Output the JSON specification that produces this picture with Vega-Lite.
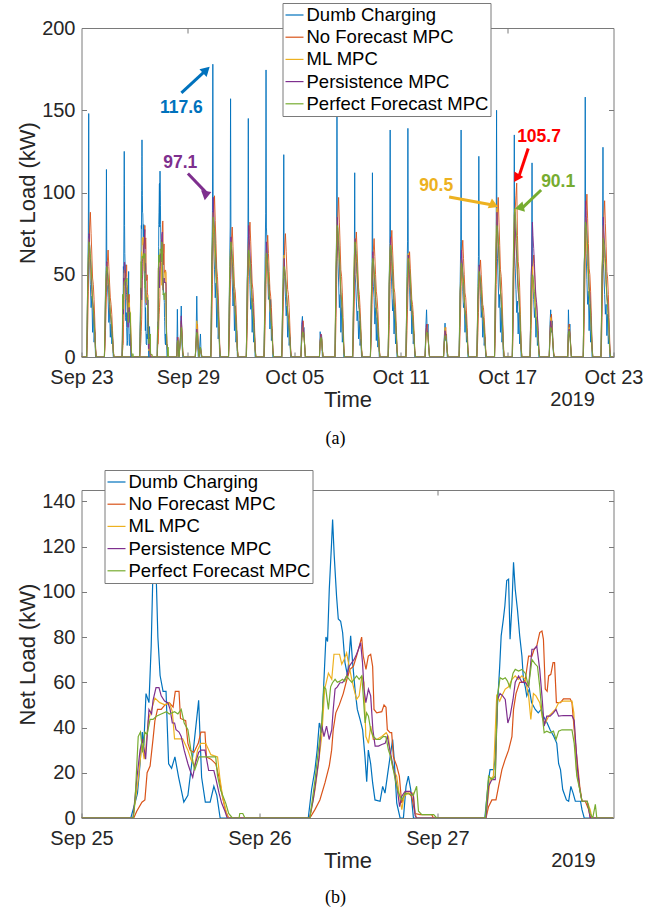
{
"$schema": "https://vega.github.io/schema/vega-lite/v6.json",
"padding": {"left": 15.5, "top": 2, "right": 5, "bottom": 2},
"spacing": 20,
"resolve": {"scale": {"color": "independent"}},
"config": {
  "font": "Liberation Sans",
  "view": {"stroke": "#7a7a7a", "strokeWidth": 1},
  "axis": {"grid": false, "domain": false, "labelFont": "Liberation Sans", "labelFontSize": 20, "labelColor": "#262626", "titleFont": "Liberation Sans", "titleFontSize": 22, "titleFontWeight": "normal", "titleColor": "#262626", "tickColor": "#7a7a7a", "tickSize": -5, "labelFlush": false, "labelOverlap": false},
  "axisX": {"labelPadding": 15, "titlePadding": 2},
  "axisY": {"labelPadding": 11.5, "titlePadding": 2}
},
"datasets": {
"notes": [
 {"lab":"117.6","t":"2019-09-28T15:13","v":160.6,"t2":"2019-09-30T00:58","v2":174.5,"tt":"2019-09-28T15:13","tv":151.5},
 {"lab":"97.1","t":"2019-09-29T00:00","v":111.5,"t2":"2019-09-30T02:02","v2":99.3,"tt":"2019-09-28T13:34","tv":117.8},
 {"lab":"105.7","t":"2019-10-18T04:34","v":126.7,"t2":"2019-10-17T15:50","v2":109.5,"tt":"2019-10-18T19:12","tv":133.6},
 {"lab":"90.5","t":"2019-10-13T17:31","v":97.3,"t2":"2019-10-16T06:14","v2":92.3,"tt":"2019-10-13T00:00","tv":103.8},
 {"lab":"90.1","t":"2019-10-18T22:05","v":101.5,"t2":"2019-10-17T19:55","v2":90.3,"tt":"2019-10-19T21:07","tv":106.3}
],
"coarse": [
{"t":"2019-09-23T00:00","dc":0,"nf":0,"ml":0,"pe":0,"pf":0},
{"t":"2019-09-23T07:00","dc":0,"nf":0,"ml":0,"pe":0,"pf":0},
{"t":"2019-09-23T07:45","dc":22,"nf":7,"ml":22,"pe":19,"pf":25},
{"t":"2019-09-23T08:30","dc":52,"nf":22,"ml":47,"pe":45,"pf":49},
{"t":"2019-09-23T09:15","dc":74,"nf":40,"ml":61,"pe":53,"pf":60},
{"t":"2019-09-23T09:45","dc":148,"nf":53,"ml":68,"pe":64,"pf":67},
{"t":"2019-09-23T10:15","dc":67,"nf":66,"ml":72,"pe":75,"pf":70},
{"t":"2019-09-23T11:00","dc":59,"nf":79,"ml":61,"pe":68,"pf":68},
{"t":"2019-09-23T12:00","dc":44,"nf":88,"ml":54,"pe":60,"pf":63},
{"t":"2019-09-23T13:00","dc":30,"nf":75,"ml":47,"pe":53,"pf":56},
{"t":"2019-09-23T14:00","dc":37,"nf":62,"ml":40,"pe":41,"pf":46},
{"t":"2019-09-23T15:00","dc":15,"nf":48,"ml":32,"pe":34,"pf":35},
{"t":"2019-09-23T16:00","dc":30,"nf":44,"ml":29,"pe":30,"pf":29},
{"t":"2019-09-23T17:00","dc":9,"nf":35,"ml":23,"pe":23,"pf":22},
{"t":"2019-09-23T18:00","dc":15,"nf":22,"ml":14,"pe":15,"pf":14},
{"t":"2019-09-23T19:00","dc":0,"nf":7,"ml":4,"pe":5,"pf":4},
{"t":"2019-09-23T20:00","dc":0,"nf":0,"ml":0,"pe":0,"pf":0},
{"t":"2019-09-24T07:00","dc":0,"nf":0,"ml":0,"pe":0,"pf":0},
{"t":"2019-09-24T07:45","dc":15,"nf":5,"ml":17,"pe":14,"pf":19},
{"t":"2019-09-24T08:30","dc":42,"nf":16,"ml":37,"pe":35,"pf":38},
{"t":"2019-09-24T09:15","dc":55,"nf":29,"ml":48,"pe":41,"pf":47},
{"t":"2019-09-24T09:45","dc":114,"nf":39,"ml":54,"pe":49,"pf":52},
{"t":"2019-09-24T10:15","dc":55,"nf":49,"ml":57,"pe":58,"pf":55},
{"t":"2019-09-24T11:00","dc":44,"nf":58,"ml":48,"pe":52,"pf":53},
{"t":"2019-09-24T12:00","dc":36,"nf":65,"ml":43,"pe":46,"pf":50},
{"t":"2019-09-24T13:00","dc":21,"nf":55,"ml":37,"pe":41,"pf":44},
{"t":"2019-09-24T14:00","dc":30,"nf":45,"ml":31,"pe":32,"pf":36},
{"t":"2019-09-24T15:00","dc":12,"nf":36,"ml":26,"pe":26,"pf":27},
{"t":"2019-09-24T16:00","dc":20,"nf":32,"ml":23,"pe":23,"pf":23},
{"t":"2019-09-24T17:00","dc":8,"nf":26,"ml":18,"pe":17,"pf":18},
{"t":"2019-09-24T18:00","dc":12,"nf":16,"ml":11,"pe":12,"pf":11},
{"t":"2019-09-24T19:00","dc":0,"nf":5,"ml":3,"pe":3,"pf":3},
{"t":"2019-09-24T20:00","dc":0,"nf":0,"ml":0,"pe":0,"pf":0},
{"t":"2019-09-28T09:00","dc":0,"nf":0,"ml":0,"pe":0,"pf":0},
{"t":"2019-09-28T09:45","dc":29,"nf":8,"ml":10,"pe":12,"pf":9},
{"t":"2019-09-28T10:30","dc":6,"nf":12,"ml":11,"pe":10,"pf":10},
{"t":"2019-09-28T11:15","dc":0,"nf":5,"ml":4,"pe":3,"pf":4},
{"t":"2019-09-28T12:00","dc":0,"nf":0,"ml":0,"pe":0,"pf":0},
{"t":"2019-09-28T14:00","dc":14,"nf":10,"ml":12,"pe":12,"pf":11},
{"t":"2019-09-28T15:00","dc":31,"nf":22,"ml":20,"pe":25,"pf":18},
{"t":"2019-09-28T16:00","dc":8,"nf":16,"ml":14,"pe":14,"pf":13},
{"t":"2019-09-28T17:00","dc":0,"nf":4,"ml":3,"pe":3,"pf":3},
{"t":"2019-09-28T18:00","dc":0,"nf":0,"ml":0,"pe":0,"pf":0},
{"t":"2019-09-29T10:00","dc":0,"nf":0,"ml":0,"pe":0,"pf":0},
{"t":"2019-09-29T11:00","dc":10,"nf":6,"ml":10,"pe":8,"pf":8},
{"t":"2019-09-29T12:00","dc":37,"nf":18,"ml":22,"pe":17,"pf":15},
{"t":"2019-09-29T13:00","dc":12,"nf":20,"ml":15,"pe":14,"pf":14},
{"t":"2019-09-29T14:00","dc":0,"nf":8,"ml":5,"pe":5,"pf":5},
{"t":"2019-09-29T15:00","dc":0,"nf":0,"ml":0,"pe":0,"pf":0},
{"t":"2019-09-29T17:00","dc":14,"nf":5,"ml":6,"pe":6,"pf":6},
{"t":"2019-09-29T18:00","dc":0,"nf":3,"ml":2,"pe":2,"pf":2},
{"t":"2019-09-29T19:00","dc":0,"nf":0,"ml":0,"pe":0,"pf":0},
{"t":"2019-09-30T07:00","dc":0,"nf":0,"ml":0,"pe":0,"pf":0},
{"t":"2019-09-30T07:45","dc":27,"nf":8,"ml":26,"pe":24,"pf":30},
{"t":"2019-09-30T08:30","dc":62,"nf":25,"ml":57,"pe":58,"pf":60},
{"t":"2019-09-30T09:15","dc":89,"nf":44,"ml":75,"pe":68,"pf":72},
{"t":"2019-09-30T09:45","dc":178,"nf":59,"ml":84,"pe":82,"pf":81},
{"t":"2019-09-30T10:15","dc":80,"nf":74,"ml":88,"pe":97.1,"pf":85},
{"t":"2019-09-30T11:00","dc":71,"nf":88,"ml":75,"pe":87,"pf":82},
{"t":"2019-09-30T12:00","dc":53,"nf":98,"ml":66,"pe":78,"pf":77},
{"t":"2019-09-30T13:00","dc":36,"nf":83,"ml":57,"pe":68,"pf":68},
{"t":"2019-09-30T14:00","dc":45,"nf":69,"ml":48,"pe":53,"pf":55},
{"t":"2019-09-30T15:00","dc":18,"nf":54,"ml":40,"pe":44,"pf":43},
{"t":"2019-09-30T16:00","dc":36,"nf":49,"ml":35,"pe":39,"pf":36},
{"t":"2019-09-30T17:00","dc":11,"nf":39,"ml":28,"pe":29,"pf":27},
{"t":"2019-09-30T18:00","dc":18,"nf":25,"ml":18,"pe":19,"pf":17},
{"t":"2019-09-30T19:00","dc":0,"nf":8,"ml":4,"pe":6,"pf":5},
{"t":"2019-09-30T20:00","dc":0,"nf":0,"ml":0,"pe":0,"pf":0},
{"t":"2019-10-01T07:00","dc":0,"nf":0,"ml":0,"pe":0,"pf":0},
{"t":"2019-10-01T07:45","dc":24,"nf":6,"ml":21,"pe":18,"pf":25},
{"t":"2019-10-01T08:30","dc":55,"nf":20,"ml":46,"pe":44,"pf":49},
{"t":"2019-10-01T09:15","dc":79,"nf":36,"ml":60,"pe":51,"pf":60},
{"t":"2019-10-01T09:45","dc":157,"nf":47,"ml":67,"pe":62,"pf":67},
{"t":"2019-10-01T10:15","dc":71,"nf":59,"ml":70,"pe":73,"pf":70},
{"t":"2019-10-01T11:00","dc":63,"nf":71,"ml":60,"pe":66,"pf":68},
{"t":"2019-10-01T12:00","dc":47,"nf":79,"ml":53,"pe":58,"pf":63},
{"t":"2019-10-01T13:00","dc":31,"nf":67,"ml":46,"pe":51,"pf":56},
{"t":"2019-10-01T14:00","dc":39,"nf":55,"ml":39,"pe":40,"pf":46},
{"t":"2019-10-01T15:00","dc":16,"nf":43,"ml":32,"pe":33,"pf":35},
{"t":"2019-10-01T16:00","dc":31,"nf":40,"ml":28,"pe":29,"pf":29},
{"t":"2019-10-01T17:00","dc":9,"nf":32,"ml":22,"pe":22,"pf":22},
{"t":"2019-10-01T18:00","dc":16,"nf":20,"ml":14,"pe":15,"pf":14},
{"t":"2019-10-01T19:00","dc":0,"nf":6,"ml":4,"pe":4,"pf":4},
{"t":"2019-10-01T20:00","dc":0,"nf":0,"ml":0,"pe":0,"pf":0},
{"t":"2019-10-02T07:00","dc":0,"nf":0,"ml":0,"pe":0,"pf":0},
{"t":"2019-10-02T07:45","dc":22,"nf":7,"ml":22,"pe":20,"pf":23},
{"t":"2019-10-02T08:30","dc":51,"nf":21,"ml":47,"pe":48,"pf":46},
{"t":"2019-10-02T09:15","dc":73,"nf":37,"ml":61,"pe":56,"pf":55},
{"t":"2019-10-02T09:45","dc":145,"nf":49,"ml":68,"pe":68,"pf":62},
{"t":"2019-10-02T10:15","dc":65,"nf":62,"ml":72,"pe":80,"pf":65},
{"t":"2019-10-02T11:00","dc":58,"nf":74,"ml":61,"pe":72,"pf":63},
{"t":"2019-10-02T12:00","dc":44,"nf":82,"ml":54,"pe":64,"pf":59},
{"t":"2019-10-02T13:00","dc":29,"nf":70,"ml":47,"pe":56,"pf":52},
{"t":"2019-10-02T14:00","dc":36,"nf":57,"ml":40,"pe":44,"pf":42},
{"t":"2019-10-02T15:00","dc":15,"nf":45,"ml":32,"pe":36,"pf":33},
{"t":"2019-10-02T16:00","dc":29,"nf":41,"ml":29,"pe":32,"pf":27},
{"t":"2019-10-02T17:00","dc":9,"nf":33,"ml":23,"pe":24,"pf":21},
{"t":"2019-10-02T18:00","dc":15,"nf":21,"ml":14,"pe":16,"pf":13},
{"t":"2019-10-02T19:00","dc":0,"nf":7,"ml":4,"pe":5,"pf":4},
{"t":"2019-10-02T20:00","dc":0,"nf":0,"ml":0,"pe":0,"pf":0},
{"t":"2019-10-03T07:00","dc":0,"nf":0,"ml":0,"pe":0,"pf":0},
{"t":"2019-10-03T07:45","dc":26,"nf":6,"ml":20,"pe":18,"pf":22},
{"t":"2019-10-03T08:30","dc":61,"nf":19,"ml":42,"pe":42,"pf":44},
{"t":"2019-10-03T09:15","dc":87,"nf":33,"ml":55,"pe":49,"pf":54},
{"t":"2019-10-03T09:45","dc":174.5,"nf":44,"ml":62,"pe":60,"pf":60},
{"t":"2019-10-03T10:15","dc":79,"nf":56,"ml":65,"pe":70,"pf":63},
{"t":"2019-10-03T11:00","dc":70,"nf":67,"ml":55,"pe":63,"pf":61},
{"t":"2019-10-03T12:00","dc":52,"nf":74,"ml":49,"pe":56,"pf":57},
{"t":"2019-10-03T13:00","dc":35,"nf":63,"ml":42,"pe":49,"pf":50},
{"t":"2019-10-03T14:00","dc":44,"nf":52,"ml":36,"pe":39,"pf":41},
{"t":"2019-10-03T15:00","dc":17,"nf":41,"ml":29,"pe":32,"pf":32},
{"t":"2019-10-03T16:00","dc":35,"nf":37,"ml":26,"pe":28,"pf":26},
{"t":"2019-10-03T17:00","dc":10,"nf":30,"ml":21,"pe":21,"pf":20},
{"t":"2019-10-03T18:00","dc":17,"nf":19,"ml":13,"pe":14,"pf":13},
{"t":"2019-10-03T19:00","dc":0,"nf":6,"ml":3,"pe":4,"pf":4},
{"t":"2019-10-03T20:00","dc":0,"nf":0,"ml":0,"pe":0,"pf":0},
{"t":"2019-10-04T07:00","dc":0,"nf":0,"ml":0,"pe":0,"pf":0},
{"t":"2019-10-04T07:45","dc":18,"nf":6,"ml":19,"pe":15,"pf":19},
{"t":"2019-10-04T08:30","dc":43,"nf":19,"ml":40,"pe":36,"pf":39},
{"t":"2019-10-04T09:15","dc":62,"nf":34,"ml":53,"pe":42,"pf":47},
{"t":"2019-10-04T09:45","dc":123,"nf":45,"ml":59,"pe":51,"pf":52},
{"t":"2019-10-04T10:15","dc":55,"nf":56,"ml":62,"pe":60,"pf":55},
{"t":"2019-10-04T11:00","dc":49,"nf":68,"ml":53,"pe":54,"pf":53},
{"t":"2019-10-04T12:00","dc":37,"nf":75,"ml":47,"pe":48,"pf":50},
{"t":"2019-10-04T13:00","dc":25,"nf":64,"ml":40,"pe":42,"pf":44},
{"t":"2019-10-04T14:00","dc":31,"nf":53,"ml":34,"pe":33,"pf":36},
{"t":"2019-10-04T15:00","dc":12,"nf":41,"ml":28,"pe":27,"pf":28},
{"t":"2019-10-04T16:00","dc":25,"nf":38,"ml":25,"pe":24,"pf":23},
{"t":"2019-10-04T17:00","dc":7,"nf":30,"ml":20,"pe":18,"pf":18},
{"t":"2019-10-04T18:00","dc":12,"nf":19,"ml":12,"pe":12,"pf":11},
{"t":"2019-10-04T19:00","dc":0,"nf":6,"ml":3,"pe":4,"pf":3},
{"t":"2019-10-04T20:00","dc":0,"nf":0,"ml":0,"pe":0,"pf":0},
{"t":"2019-10-05T09:00","dc":0,"nf":0,"ml":0,"pe":0,"pf":0},
{"t":"2019-10-05T10:00","dc":20,"nf":10,"ml":12,"pe":12,"pf":10},
{"t":"2019-10-05T11:00","dc":24.7,"nf":18,"ml":20,"pe":22,"pf":15},
{"t":"2019-10-05T12:00","dc":12,"nf":22,"ml":18,"pe":18,"pf":15},
{"t":"2019-10-05T13:00","dc":18,"nf":15,"ml":14,"pe":14,"pf":13},
{"t":"2019-10-05T14:00","dc":6,"nf":8,"ml":7,"pe":7,"pf":7},
{"t":"2019-10-05T15:00","dc":0,"nf":0,"ml":0,"pe":0,"pf":0},
{"t":"2019-10-06T10:00","dc":0,"nf":0,"ml":0,"pe":0,"pf":0},
{"t":"2019-10-06T11:00","dc":15.4,"nf":8,"ml":10,"pe":10,"pf":9},
{"t":"2019-10-06T12:00","dc":10,"nf":14,"ml":13,"pe":14,"pf":12},
{"t":"2019-10-06T13:00","dc":13,"nf":12,"ml":11,"pe":11,"pf":11},
{"t":"2019-10-06T14:00","dc":0,"nf":5,"ml":4,"pe":4,"pf":4},
{"t":"2019-10-06T15:00","dc":0,"nf":0,"ml":0,"pe":0,"pf":0},
{"t":"2019-10-07T07:00","dc":0,"nf":0,"ml":0,"pe":0,"pf":0},
{"t":"2019-10-07T07:45","dc":23,"nf":8,"ml":26,"pe":21,"pf":28},
{"t":"2019-10-07T08:30","dc":53,"nf":24,"ml":55,"pe":51,"pf":56},
{"t":"2019-10-07T09:15","dc":75,"nf":44,"ml":72,"pe":60,"pf":68},
{"t":"2019-10-07T09:45","dc":150,"nf":58,"ml":81,"pe":72,"pf":76},
{"t":"2019-10-07T10:15","dc":68,"nf":73,"ml":85,"pe":85,"pf":80},
{"t":"2019-10-07T11:00","dc":60,"nf":87,"ml":72,"pe":77,"pf":78},
{"t":"2019-10-07T12:00","dc":45,"nf":97,"ml":64,"pe":68,"pf":72},
{"t":"2019-10-07T13:00","dc":30,"nf":82,"ml":55,"pe":60,"pf":64},
{"t":"2019-10-07T14:00","dc":38,"nf":68,"ml":47,"pe":47,"pf":52},
{"t":"2019-10-07T15:00","dc":15,"nf":53,"ml":38,"pe":38,"pf":40},
{"t":"2019-10-07T16:00","dc":30,"nf":49,"ml":34,"pe":34,"pf":34},
{"t":"2019-10-07T17:00","dc":9,"nf":39,"ml":27,"pe":26,"pf":26},
{"t":"2019-10-07T18:00","dc":15,"nf":24,"ml":17,"pe":17,"pf":16},
{"t":"2019-10-07T19:00","dc":0,"nf":8,"ml":4,"pe":5,"pf":5},
{"t":"2019-10-07T20:00","dc":0,"nf":0,"ml":0,"pe":0,"pf":0},
{"t":"2019-10-08T07:00","dc":0,"nf":0,"ml":0,"pe":0,"pf":0},
{"t":"2019-10-08T07:45","dc":17,"nf":6,"ml":22,"pe":18,"pf":25},
{"t":"2019-10-08T08:30","dc":39,"nf":19,"ml":47,"pe":43,"pf":49},
{"t":"2019-10-08T09:15","dc":56,"nf":34,"ml":61,"pe":50,"pf":60},
{"t":"2019-10-08T09:45","dc":112,"nf":46,"ml":68,"pe":61,"pf":67},
{"t":"2019-10-08T10:15","dc":50,"nf":57,"ml":72,"pe":72,"pf":70},
{"t":"2019-10-08T11:00","dc":45,"nf":68,"ml":61,"pe":65,"pf":68},
{"t":"2019-10-08T12:00","dc":34,"nf":76,"ml":54,"pe":58,"pf":63},
{"t":"2019-10-08T13:00","dc":22,"nf":65,"ml":47,"pe":50,"pf":56},
{"t":"2019-10-08T14:00","dc":28,"nf":53,"ml":40,"pe":40,"pf":46},
{"t":"2019-10-08T15:00","dc":11,"nf":42,"ml":32,"pe":32,"pf":35},
{"t":"2019-10-08T16:00","dc":22,"nf":38,"ml":29,"pe":29,"pf":29},
{"t":"2019-10-08T17:00","dc":7,"nf":30,"ml":23,"pe":22,"pf":22},
{"t":"2019-10-08T18:00","dc":11,"nf":19,"ml":14,"pe":14,"pf":14},
{"t":"2019-10-08T19:00","dc":0,"nf":6,"ml":4,"pe":4,"pf":4},
{"t":"2019-10-08T20:00","dc":0,"nf":0,"ml":0,"pe":0,"pf":0},
{"t":"2019-10-09T07:00","dc":0,"nf":0,"ml":0,"pe":0,"pf":0},
{"t":"2019-10-09T07:45","dc":14,"nf":6,"ml":19,"pe":16,"pf":21},
{"t":"2019-10-09T08:30","dc":40,"nf":18,"ml":40,"pe":38,"pf":42},
{"t":"2019-10-09T09:15","dc":58,"nf":32,"ml":53,"pe":45,"pf":51},
{"t":"2019-10-09T09:45","dc":112,"nf":43,"ml":59,"pe":54,"pf":57},
{"t":"2019-10-09T10:15","dc":52,"nf":54,"ml":62,"pe":64,"pf":60},
{"t":"2019-10-09T11:00","dc":43,"nf":65,"ml":53,"pe":58,"pf":58},
{"t":"2019-10-09T12:00","dc":36,"nf":72,"ml":47,"pe":51,"pf":54},
{"t":"2019-10-09T13:00","dc":20,"nf":61,"ml":40,"pe":45,"pf":48},
{"t":"2019-10-09T14:00","dc":30,"nf":50,"ml":34,"pe":35,"pf":39},
{"t":"2019-10-09T15:00","dc":10,"nf":40,"ml":28,"pe":29,"pf":30},
{"t":"2019-10-09T16:00","dc":24,"nf":36,"ml":25,"pe":26,"pf":25},
{"t":"2019-10-09T17:00","dc":6,"nf":29,"ml":20,"pe":19,"pf":19},
{"t":"2019-10-09T18:00","dc":12,"nf":18,"ml":12,"pe":13,"pf":12},
{"t":"2019-10-09T19:00","dc":0,"nf":6,"ml":3,"pe":4,"pf":4},
{"t":"2019-10-09T20:00","dc":0,"nf":0,"ml":0,"pe":0,"pf":0},
{"t":"2019-10-10T07:00","dc":0,"nf":0,"ml":0,"pe":0,"pf":0},
{"t":"2019-10-10T07:45","dc":21,"nf":6,"ml":21,"pe":18,"pf":24},
{"t":"2019-10-10T08:30","dc":48,"nf":19,"ml":46,"pe":44,"pf":48},
{"t":"2019-10-10T09:15","dc":69,"nf":35,"ml":60,"pe":51,"pf":58},
{"t":"2019-10-10T09:45","dc":138,"nf":46,"ml":67,"pe":62,"pf":65},
{"t":"2019-10-10T10:15","dc":62,"nf":58,"ml":70,"pe":73,"pf":68},
{"t":"2019-10-10T11:00","dc":55,"nf":69,"ml":60,"pe":66,"pf":66},
{"t":"2019-10-10T12:00","dc":41,"nf":77,"ml":53,"pe":58,"pf":61},
{"t":"2019-10-10T13:00","dc":28,"nf":65,"ml":46,"pe":51,"pf":54},
{"t":"2019-10-10T14:00","dc":35,"nf":54,"ml":39,"pe":40,"pf":44},
{"t":"2019-10-10T15:00","dc":14,"nf":42,"ml":32,"pe":33,"pf":34},
{"t":"2019-10-10T16:00","dc":28,"nf":39,"ml":28,"pe":29,"pf":29},
{"t":"2019-10-10T17:00","dc":8,"nf":31,"ml":22,"pe":22,"pf":22},
{"t":"2019-10-10T18:00","dc":14,"nf":19,"ml":14,"pe":15,"pf":14},
{"t":"2019-10-10T19:00","dc":0,"nf":6,"ml":4,"pe":4,"pf":4},
{"t":"2019-10-10T20:00","dc":0,"nf":0,"ml":0,"pe":0,"pf":0},
{"t":"2019-10-11T07:00","dc":0,"nf":0,"ml":0,"pe":0,"pf":0},
{"t":"2019-10-11T07:45","dc":21,"nf":5,"ml":19,"pe":16,"pf":21},
{"t":"2019-10-11T08:30","dc":49,"nf":16,"ml":41,"pe":37,"pf":42},
{"t":"2019-10-11T09:15","dc":70,"nf":29,"ml":54,"pe":43,"pf":51},
{"t":"2019-10-11T09:45","dc":139,"nf":38,"ml":60,"pe":53,"pf":57},
{"t":"2019-10-11T10:15","dc":63,"nf":48,"ml":63,"pe":62,"pf":60},
{"t":"2019-10-11T11:00","dc":56,"nf":58,"ml":54,"pe":56,"pf":58},
{"t":"2019-10-11T12:00","dc":42,"nf":64,"ml":47,"pe":50,"pf":54},
{"t":"2019-10-11T13:00","dc":28,"nf":54,"ml":41,"pe":43,"pf":48},
{"t":"2019-10-11T14:00","dc":35,"nf":45,"ml":35,"pe":34,"pf":39},
{"t":"2019-10-11T15:00","dc":14,"nf":35,"ml":28,"pe":28,"pf":30},
{"t":"2019-10-11T16:00","dc":28,"nf":32,"ml":25,"pe":25,"pf":25},
{"t":"2019-10-11T17:00","dc":8,"nf":26,"ml":20,"pe":19,"pf":19},
{"t":"2019-10-11T18:00","dc":14,"nf":16,"ml":13,"pe":12,"pf":12},
{"t":"2019-10-11T19:00","dc":0,"nf":5,"ml":3,"pe":4,"pf":4},
{"t":"2019-10-11T20:00","dc":0,"nf":0,"ml":0,"pe":0,"pf":0},
{"t":"2019-10-12T09:00","dc":0,"nf":0,"ml":0,"pe":0,"pf":0},
{"t":"2019-10-12T10:00","dc":18,"nf":10,"ml":12,"pe":14,"pf":12},
{"t":"2019-10-12T11:00","dc":28.7,"nf":18,"ml":20,"pe":20,"pf":15},
{"t":"2019-10-12T12:00","dc":14,"nf":20,"ml":17,"pe":16,"pf":15},
{"t":"2019-10-12T13:00","dc":20,"nf":12,"ml":13,"pe":12,"pf":12},
{"t":"2019-10-12T14:00","dc":5,"nf":6,"ml":6,"pe":6,"pf":5},
{"t":"2019-10-12T15:00","dc":0,"nf":0,"ml":0,"pe":0,"pf":0},
{"t":"2019-10-13T10:00","dc":0,"nf":0,"ml":0,"pe":0,"pf":0},
{"t":"2019-10-13T11:00","dc":12,"nf":8,"ml":10,"pe":10,"pf":9},
{"t":"2019-10-13T12:00","dc":20.6,"nf":15,"ml":18,"pe":16,"pf":13},
{"t":"2019-10-13T13:00","dc":10,"nf":18,"ml":14,"pe":13,"pf":12},
{"t":"2019-10-13T14:00","dc":14,"nf":10,"ml":10,"pe":9,"pf":9},
{"t":"2019-10-13T15:00","dc":0,"nf":4,"ml":3,"pe":3,"pf":3},
{"t":"2019-10-13T16:00","dc":0,"nf":0,"ml":0,"pe":0,"pf":0},
{"t":"2019-10-14T07:00","dc":0,"nf":0,"ml":0,"pe":0,"pf":0},
{"t":"2019-10-14T07:45","dc":24,"nf":6,"ml":18,"pe":16,"pf":20},
{"t":"2019-10-14T08:30","dc":46,"nf":18,"ml":39,"pe":39,"pf":40},
{"t":"2019-10-14T09:15","dc":70,"nf":32,"ml":51,"pe":46,"pf":48},
{"t":"2019-10-14T09:45","dc":138,"nf":43,"ml":57,"pe":55,"pf":54},
{"t":"2019-10-14T10:15","dc":60,"nf":53,"ml":60,"pe":65,"pf":57},
{"t":"2019-10-14T11:00","dc":57,"nf":64,"ml":51,"pe":59,"pf":55},
{"t":"2019-10-14T12:00","dc":40,"nf":71,"ml":45,"pe":52,"pf":51},
{"t":"2019-10-14T13:00","dc":30,"nf":60,"ml":39,"pe":46,"pf":46},
{"t":"2019-10-14T14:00","dc":33,"nf":50,"ml":33,"pe":36,"pf":37},
{"t":"2019-10-14T15:00","dc":15,"nf":39,"ml":27,"pe":29,"pf":29},
{"t":"2019-10-14T16:00","dc":26,"nf":36,"ml":24,"pe":26,"pf":24},
{"t":"2019-10-14T17:00","dc":9,"nf":28,"ml":19,"pe":20,"pf":18},
{"t":"2019-10-14T18:00","dc":13,"nf":18,"ml":12,"pe":13,"pf":11},
{"t":"2019-10-14T19:00","dc":0,"nf":6,"ml":3,"pe":4,"pf":3},
{"t":"2019-10-14T20:00","dc":0,"nf":0,"ml":0,"pe":0,"pf":0},
{"t":"2019-10-15T07:00","dc":0,"nf":0,"ml":0,"pe":0,"pf":0},
{"t":"2019-10-15T07:45","dc":18,"nf":5,"ml":17,"pe":14,"pf":18},
{"t":"2019-10-15T08:30","dc":43,"nf":15,"ml":36,"pe":34,"pf":36},
{"t":"2019-10-15T09:15","dc":61,"nf":27,"ml":47,"pe":39,"pf":44},
{"t":"2019-10-15T09:45","dc":122,"nf":35,"ml":52,"pe":48,"pf":49},
{"t":"2019-10-15T10:15","dc":55,"nf":44,"ml":55,"pe":56,"pf":52},
{"t":"2019-10-15T11:00","dc":49,"nf":53,"ml":47,"pe":50,"pf":50},
{"t":"2019-10-15T12:00","dc":37,"nf":59,"ml":41,"pe":45,"pf":47},
{"t":"2019-10-15T13:00","dc":24,"nf":50,"ml":36,"pe":39,"pf":42},
{"t":"2019-10-15T14:00","dc":31,"nf":41,"ml":30,"pe":31,"pf":34},
{"t":"2019-10-15T15:00","dc":12,"nf":32,"ml":25,"pe":25,"pf":26},
{"t":"2019-10-15T16:00","dc":24,"nf":30,"ml":22,"pe":22,"pf":22},
{"t":"2019-10-15T17:00","dc":7,"nf":24,"ml":18,"pe":17,"pf":17},
{"t":"2019-10-15T18:00","dc":12,"nf":15,"ml":11,"pe":11,"pf":10},
{"t":"2019-10-15T19:00","dc":0,"nf":5,"ml":3,"pe":3,"pf":3},
{"t":"2019-10-15T20:00","dc":0,"nf":0,"ml":0,"pe":0,"pf":0},
{"t":"2019-10-16T07:00","dc":0,"nf":0,"ml":0,"pe":0,"pf":0},
{"t":"2019-10-16T07:45","dc":23,"nf":8,"ml":27,"pe":22,"pf":28},
{"t":"2019-10-16T08:30","dc":53,"nf":24,"ml":59,"pe":53,"pf":56},
{"t":"2019-10-16T09:15","dc":75,"nf":44,"ml":77,"pe":62,"pf":68},
{"t":"2019-10-16T09:45","dc":150,"nf":58,"ml":86,"pe":75,"pf":76},
{"t":"2019-10-16T10:15","dc":68,"nf":73,"ml":90.5,"pe":88,"pf":80},
{"t":"2019-10-16T11:00","dc":60,"nf":87,"ml":77,"pe":79,"pf":78},
{"t":"2019-10-16T12:00","dc":45,"nf":97,"ml":68,"pe":70,"pf":72},
{"t":"2019-10-16T13:00","dc":30,"nf":82,"ml":59,"pe":62,"pf":64},
{"t":"2019-10-16T14:00","dc":38,"nf":68,"ml":50,"pe":48,"pf":52},
{"t":"2019-10-16T15:00","dc":15,"nf":53,"ml":41,"pe":40,"pf":40},
{"t":"2019-10-16T16:00","dc":30,"nf":49,"ml":36,"pe":35,"pf":34},
{"t":"2019-10-16T17:00","dc":9,"nf":39,"ml":29,"pe":26,"pf":26},
{"t":"2019-10-16T18:00","dc":15,"nf":24,"ml":18,"pe":18,"pf":16},
{"t":"2019-10-16T19:00","dc":0,"nf":8,"ml":5,"pe":5,"pf":5},
{"t":"2019-10-16T20:00","dc":0,"nf":0,"ml":0,"pe":0,"pf":0},
{"t":"2019-10-17T07:00","dc":0,"nf":0,"ml":0,"pe":0,"pf":0},
{"t":"2019-10-17T07:45","dc":20,"nf":8,"ml":27,"pe":22,"pf":32},
{"t":"2019-10-17T08:30","dc":47,"nf":26,"ml":59,"pe":53,"pf":63},
{"t":"2019-10-17T09:15","dc":68,"nf":48,"ml":77,"pe":62,"pf":77},
{"t":"2019-10-17T09:45","dc":135,"nf":63,"ml":86,"pe":75,"pf":86},
{"t":"2019-10-17T10:15","dc":61,"nf":79,"ml":90,"pe":88,"pf":90.1},
{"t":"2019-10-17T11:00","dc":54,"nf":90,"ml":77,"pe":79,"pf":87},
{"t":"2019-10-17T12:00","dc":41,"nf":98,"ml":68,"pe":70,"pf":81},
{"t":"2019-10-17T13:00","dc":27,"nf":105.7,"ml":59,"pe":62,"pf":72},
{"t":"2019-10-17T14:00","dc":34,"nf":74,"ml":50,"pe":48,"pf":59},
{"t":"2019-10-17T15:00","dc":14,"nf":58,"ml":41,"pe":40,"pf":45},
{"t":"2019-10-17T16:00","dc":27,"nf":53,"ml":36,"pe":35,"pf":38},
{"t":"2019-10-17T17:00","dc":8,"nf":42,"ml":29,"pe":26,"pf":29},
{"t":"2019-10-17T18:00","dc":14,"nf":26,"ml":18,"pe":18,"pf":18},
{"t":"2019-10-17T19:00","dc":0,"nf":8,"ml":5,"pe":5,"pf":5},
{"t":"2019-10-17T20:00","dc":0,"nf":0,"ml":0,"pe":0,"pf":0},
{"t":"2019-10-18T07:00","dc":0,"nf":0,"ml":0,"pe":0,"pf":0},
{"t":"2019-10-18T07:45","dc":18,"nf":5,"ml":17,"pe":21,"pf":18},
{"t":"2019-10-18T08:30","dc":41,"nf":16,"ml":36,"pe":49,"pf":35},
{"t":"2019-10-18T09:15","dc":59,"nf":28,"ml":47,"pe":57,"pf":43},
{"t":"2019-10-18T09:45","dc":118,"nf":37,"ml":52,"pe":70,"pf":48},
{"t":"2019-10-18T10:15","dc":53,"nf":47,"ml":55,"pe":82,"pf":50},
{"t":"2019-10-18T11:00","dc":47,"nf":56,"ml":47,"pe":74,"pf":49},
{"t":"2019-10-18T12:00","dc":35,"nf":62,"ml":41,"pe":66,"pf":45},
{"t":"2019-10-18T13:00","dc":24,"nf":53,"ml":36,"pe":57,"pf":40},
{"t":"2019-10-18T14:00","dc":30,"nf":43,"ml":30,"pe":45,"pf":33},
{"t":"2019-10-18T15:00","dc":12,"nf":34,"ml":25,"pe":37,"pf":25},
{"t":"2019-10-18T16:00","dc":24,"nf":31,"ml":22,"pe":33,"pf":21},
{"t":"2019-10-18T17:00","dc":7,"nf":25,"ml":18,"pe":25,"pf":16},
{"t":"2019-10-18T18:00","dc":12,"nf":16,"ml":11,"pe":16,"pf":10},
{"t":"2019-10-18T19:00","dc":0,"nf":5,"ml":3,"pe":5,"pf":3},
{"t":"2019-10-18T20:00","dc":0,"nf":0,"ml":0,"pe":0,"pf":0},
{"t":"2019-10-19T09:00","dc":0,"nf":0,"ml":0,"pe":0,"pf":0},
{"t":"2019-10-19T10:00","dc":20,"nf":12,"ml":14,"pe":14,"pf":12},
{"t":"2019-10-19T11:00","dc":28.7,"nf":22,"ml":24,"pe":22,"pf":18},
{"t":"2019-10-19T12:00","dc":15,"nf":26,"ml":20,"pe":19,"pf":17},
{"t":"2019-10-19T13:00","dc":22,"nf":18,"ml":16,"pe":16,"pf":15},
{"t":"2019-10-19T14:00","dc":8,"nf":10,"ml":8,"pe":8,"pf":8},
{"t":"2019-10-19T15:00","dc":0,"nf":3,"ml":2,"pe":2,"pf":2},
{"t":"2019-10-19T16:00","dc":0,"nf":0,"ml":0,"pe":0,"pf":0},
{"t":"2019-10-20T10:00","dc":0,"nf":0,"ml":0,"pe":0,"pf":0},
{"t":"2019-10-20T11:00","dc":28.7,"nf":14,"ml":16,"pe":15,"pf":14},
{"t":"2019-10-20T12:00","dc":12,"nf":20,"ml":18,"pe":17,"pf":16},
{"t":"2019-10-20T13:00","dc":20,"nf":15,"ml":14,"pe":14,"pf":13},
{"t":"2019-10-20T14:00","dc":6,"nf":8,"ml":7,"pe":7,"pf":6},
{"t":"2019-10-20T15:00","dc":0,"nf":0,"ml":0,"pe":0,"pf":0},
{"t":"2019-10-21T07:00","dc":0,"nf":0,"ml":0,"pe":0,"pf":0},
{"t":"2019-10-21T07:45","dc":24,"nf":8,"ml":26,"pe":24,"pf":29},
{"t":"2019-10-21T08:30","dc":55,"nf":25,"ml":55,"pe":57,"pf":57},
{"t":"2019-10-21T09:15","dc":79,"nf":45,"ml":72,"pe":67,"pf":70},
{"t":"2019-10-21T09:45","dc":158,"nf":59,"ml":81,"pe":81,"pf":78},
{"t":"2019-10-21T10:15","dc":71,"nf":74,"ml":85,"pe":95,"pf":82},
{"t":"2019-10-21T11:00","dc":63,"nf":89,"ml":72,"pe":86,"pf":80},
{"t":"2019-10-21T12:00","dc":47,"nf":99,"ml":64,"pe":76,"pf":74},
{"t":"2019-10-21T13:00","dc":32,"nf":84,"ml":55,"pe":67,"pf":66},
{"t":"2019-10-21T14:00","dc":40,"nf":69,"ml":47,"pe":52,"pf":53},
{"t":"2019-10-21T15:00","dc":16,"nf":54,"ml":38,"pe":43,"pf":41},
{"t":"2019-10-21T16:00","dc":32,"nf":50,"ml":34,"pe":38,"pf":34},
{"t":"2019-10-21T17:00","dc":9,"nf":40,"ml":27,"pe":29,"pf":26},
{"t":"2019-10-21T18:00","dc":16,"nf":25,"ml":17,"pe":19,"pf":16},
{"t":"2019-10-21T19:00","dc":0,"nf":8,"ml":4,"pe":6,"pf":5},
{"t":"2019-10-21T20:00","dc":0,"nf":0,"ml":0,"pe":0,"pf":0},
{"t":"2019-10-22T07:00","dc":0,"nf":0,"ml":0,"pe":0,"pf":0},
{"t":"2019-10-22T07:45","dc":19,"nf":8,"ml":24,"pe":21,"pf":25},
{"t":"2019-10-22T08:30","dc":45,"nf":24,"ml":52,"pe":51,"pf":50},
{"t":"2019-10-22T09:15","dc":64,"nf":43,"ml":68,"pe":60,"pf":61},
{"t":"2019-10-22T09:45","dc":127.5,"nf":57,"ml":76,"pe":72,"pf":68},
{"t":"2019-10-22T10:15","dc":57,"nf":71,"ml":80,"pe":85,"pf":72},
{"t":"2019-10-22T11:00","dc":51,"nf":86,"ml":68,"pe":77,"pf":70},
{"t":"2019-10-22T12:00","dc":38,"nf":95,"ml":60,"pe":68,"pf":65},
{"t":"2019-10-22T13:00","dc":26,"nf":81,"ml":52,"pe":60,"pf":58},
{"t":"2019-10-22T14:00","dc":32,"nf":67,"ml":44,"pe":47,"pf":47},
{"t":"2019-10-22T15:00","dc":13,"nf":52,"ml":36,"pe":38,"pf":36},
{"t":"2019-10-22T16:00","dc":26,"nf":48,"ml":32,"pe":34,"pf":30},
{"t":"2019-10-22T17:00","dc":8,"nf":38,"ml":26,"pe":26,"pf":23},
{"t":"2019-10-22T18:00","dc":13,"nf":24,"ml":16,"pe":17,"pf":14},
{"t":"2019-10-22T19:00","dc":0,"nf":8,"ml":4,"pe":5,"pf":4},
{"t":"2019-10-22T20:00","dc":0,"nf":0,"ml":0,"pe":0,"pf":0},
{"t":"2019-10-23T00:00","dc":0,"nf":0,"ml":0,"pe":0,"pf":0}
],
"fine": [
{"t":"2019-09-25T00:00","s":"dc","v":0},
{"t":"2019-09-25T06:39","s":"dc","v":0},{"t":"2019-09-25T06:54","s":"dc","v":3},{"t":"2019-09-25T07:15","s":"dc","v":7},{"t":"2019-09-25T07:33","s":"dc","v":11},{"t":"2019-09-25T07:54","s":"dc","v":24},{"t":"2019-09-25T08:12","s":"dc","v":38},{"t":"2019-09-25T08:24","s":"dc","v":32},{"t":"2019-09-25T08:42","s":"dc","v":55},{"t":"2019-09-25T09:06","s":"dc","v":51},{"t":"2019-09-25T09:24","s":"dc","v":76},{"t":"2019-09-25T09:36","s":"dc","v":104},{"t":"2019-09-25T09:51","s":"dc","v":125},{"t":"2019-09-25T10:06","s":"dc","v":104},{"t":"2019-09-25T10:18","s":"dc","v":80},{"t":"2019-09-25T10:36","s":"dc","v":63},{"t":"2019-09-25T11:00","s":"dc","v":56},{"t":"2019-09-25T11:24","s":"dc","v":56},{"t":"2019-09-25T11:45","s":"dc","v":24},{"t":"2019-09-25T12:09","s":"dc","v":22},{"t":"2019-09-25T12:36","s":"dc","v":27},{"t":"2019-09-25T13:06","s":"dc","v":18},{"t":"2019-09-25T13:48","s":"dc","v":7},{"t":"2019-09-25T14:21","s":"dc","v":10},{"t":"2019-09-25T15:03","s":"dc","v":29},{"t":"2019-09-25T15:48","s":"dc","v":52},{"t":"2019-09-25T16:12","s":"dc","v":18},{"t":"2019-09-25T16:42","s":"dc","v":7},{"t":"2019-09-25T17:21","s":"dc","v":7},{"t":"2019-09-25T17:51","s":"dc","v":14},{"t":"2019-09-25T18:15","s":"dc","v":10},{"t":"2019-09-25T18:42","s":"dc","v":0},
{"t":"2019-09-26T06:35","s":"dc","v":0},{"t":"2019-09-26T07:02","s":"dc","v":12.6},{"t":"2019-09-26T07:29","s":"dc","v":21.4},{"t":"2019-09-26T07:47","s":"dc","v":30},{"t":"2019-09-26T08:04","s":"dc","v":42},{"t":"2019-09-26T08:23","s":"dc","v":37.7},{"t":"2019-09-26T08:36","s":"dc","v":54},{"t":"2019-09-26T08:58","s":"dc","v":80},{"t":"2019-09-26T09:11","s":"dc","v":78},{"t":"2019-09-26T09:25","s":"dc","v":101},{"t":"2019-09-26T09:44","s":"dc","v":122},{"t":"2019-09-26T09:52","s":"dc","v":132},{"t":"2019-09-26T10:05","s":"dc","v":116},{"t":"2019-09-26T10:24","s":"dc","v":98},{"t":"2019-09-26T10:38","s":"dc","v":88},{"t":"2019-09-26T10:57","s":"dc","v":87},{"t":"2019-09-26T11:13","s":"dc","v":82},{"t":"2019-09-26T11:32","s":"dc","v":68.7},{"t":"2019-09-26T11:53","s":"dc","v":62.8},{"t":"2019-09-26T12:18","s":"dc","v":80.5},{"t":"2019-09-26T12:34","s":"dc","v":68.7},{"t":"2019-09-26T12:53","s":"dc","v":57},{"t":"2019-09-26T13:12","s":"dc","v":48},{"t":"2019-09-26T13:34","s":"dc","v":43.6},{"t":"2019-09-26T13:55","s":"dc","v":39},{"t":"2019-09-26T14:14","s":"dc","v":27},{"t":"2019-09-26T14:28","s":"dc","v":16},{"t":"2019-09-26T14:41","s":"dc","v":30},{"t":"2019-09-26T15:00","s":"dc","v":24},{"t":"2019-09-26T15:16","s":"dc","v":15.5},{"t":"2019-09-26T15:35","s":"dc","v":8},{"t":"2019-09-26T16:16","s":"dc","v":7.4},{"t":"2019-09-26T16:37","s":"dc","v":14},{"t":"2019-09-26T16:56","s":"dc","v":11},{"t":"2019-09-26T17:15","s":"dc","v":18.5},{"t":"2019-09-26T17:37","s":"dc","v":27},{"t":"2019-09-26T17:58","s":"dc","v":34.7},{"t":"2019-09-26T18:09","s":"dc","v":27},{"t":"2019-09-26T18:31","s":"dc","v":6.6},{"t":"2019-09-26T18:58","s":"dc","v":0},{"t":"2019-09-26T19:25","s":"dc","v":0},{"t":"2019-09-26T19:46","s":"dc","v":14},{"t":"2019-09-26T20:05","s":"dc","v":18.5},{"t":"2019-09-26T20:24","s":"dc","v":12.6},{"t":"2019-09-26T20:46","s":"dc","v":0},
{"t":"2019-09-27T06:24","s":"dc","v":0},{"t":"2019-09-27T06:54","s":"dc","v":17},{"t":"2019-09-27T07:06","s":"dc","v":21.4},{"t":"2019-09-27T07:36","s":"dc","v":21.4},{"t":"2019-09-27T07:48","s":"dc","v":27},{"t":"2019-09-27T08:06","s":"dc","v":49.5},{"t":"2019-09-27T08:24","s":"dc","v":67},{"t":"2019-09-27T08:36","s":"dc","v":80.5},{"t":"2019-09-27T08:54","s":"dc","v":88},{"t":"2019-09-27T09:06","s":"dc","v":93.8},{"t":"2019-09-27T09:21","s":"dc","v":105},{"t":"2019-09-27T09:36","s":"dc","v":105.6},{"t":"2019-09-27T09:48","s":"dc","v":79},{"t":"2019-09-27T10:03","s":"dc","v":93.8},{"t":"2019-09-27T10:16","s":"dc","v":113},{"t":"2019-09-27T10:30","s":"dc","v":101},{"t":"2019-09-27T10:48","s":"dc","v":92},{"t":"2019-09-27T11:06","s":"dc","v":80.5},{"t":"2019-09-27T11:24","s":"dc","v":71.6},{"t":"2019-09-27T11:36","s":"dc","v":61.3},{"t":"2019-09-27T11:51","s":"dc","v":58},{"t":"2019-09-27T12:03","s":"dc","v":54},{"t":"2019-09-27T12:24","s":"dc","v":57},{"t":"2019-09-27T12:42","s":"dc","v":51},{"t":"2019-09-27T13:12","s":"dc","v":48},{"t":"2019-09-27T13:36","s":"dc","v":46.5},{"t":"2019-09-27T14:00","s":"dc","v":48},{"t":"2019-09-27T14:18","s":"dc","v":45},{"t":"2019-09-27T14:48","s":"dc","v":42},{"t":"2019-09-27T15:12","s":"dc","v":39},{"t":"2019-09-27T15:42","s":"dc","v":36},{"t":"2019-09-27T16:06","s":"dc","v":33},{"t":"2019-09-27T16:21","s":"dc","v":24},{"t":"2019-09-27T16:36","s":"dc","v":21.4},{"t":"2019-09-27T16:54","s":"dc","v":12.6},{"t":"2019-09-27T17:24","s":"dc","v":8},{"t":"2019-09-27T17:42","s":"dc","v":7.4},{"t":"2019-09-27T18:00","s":"dc","v":14},{"t":"2019-09-27T18:18","s":"dc","v":11},{"t":"2019-09-27T18:36","s":"dc","v":7.4},{"t":"2019-09-27T19:18","s":"dc","v":7.4},{"t":"2019-09-27T19:30","s":"dc","v":3.7},{"t":"2019-09-27T19:48","s":"dc","v":0},
{"t":"2019-09-27T23:45","s":"dc","v":0},
{"t":"2019-09-25T00:00","s":"nf","v":0},
{"t":"2019-09-25T07:03","s":"nf","v":0},{"t":"2019-09-25T07:27","s":"nf","v":3},{"t":"2019-09-25T08:09","s":"nf","v":7},{"t":"2019-09-25T08:33","s":"nf","v":8},{"t":"2019-09-25T08:51","s":"nf","v":20},{"t":"2019-09-25T09:15","s":"nf","v":23},{"t":"2019-09-25T09:39","s":"nf","v":35},{"t":"2019-09-25T09:54","s":"nf","v":43},{"t":"2019-09-25T10:15","s":"nf","v":48},{"t":"2019-09-25T10:45","s":"nf","v":48},{"t":"2019-09-25T11:15","s":"nf","v":50},{"t":"2019-09-25T11:51","s":"nf","v":51},{"t":"2019-09-25T12:21","s":"nf","v":49},{"t":"2019-09-25T12:39","s":"nf","v":56},{"t":"2019-09-25T13:09","s":"nf","v":56},{"t":"2019-09-25T13:21","s":"nf","v":44},{"t":"2019-09-25T14:03","s":"nf","v":43},{"t":"2019-09-25T14:21","s":"nf","v":33},{"t":"2019-09-25T14:39","s":"nf","v":30},{"t":"2019-09-25T15:09","s":"nf","v":29},{"t":"2019-09-25T15:45","s":"nf","v":33},{"t":"2019-09-25T16:06","s":"nf","v":38},{"t":"2019-09-25T16:39","s":"nf","v":38},{"t":"2019-09-25T16:51","s":"nf","v":27},{"t":"2019-09-25T17:27","s":"nf","v":26},{"t":"2019-09-25T18:06","s":"nf","v":24},{"t":"2019-09-25T18:33","s":"nf","v":18},{"t":"2019-09-25T19:00","s":"nf","v":9.6},{"t":"2019-09-25T19:27","s":"nf","v":3},{"t":"2019-09-25T19:51","s":"nf","v":0},
{"t":"2019-09-26T06:48","s":"nf","v":0},{"t":"2019-09-26T07:29","s":"nf","v":3.7},{"t":"2019-09-26T08:09","s":"nf","v":8},{"t":"2019-09-26T08:50","s":"nf","v":15.5},{"t":"2019-09-26T09:25","s":"nf","v":23},{"t":"2019-09-26T09:44","s":"nf","v":30},{"t":"2019-09-26T09:57","s":"nf","v":39},{"t":"2019-09-26T10:18","s":"nf","v":46.5},{"t":"2019-09-26T10:46","s":"nf","v":50},{"t":"2019-09-26T11:18","s":"nf","v":55},{"t":"2019-09-26T11:46","s":"nf","v":61},{"t":"2019-09-26T12:12","s":"nf","v":65.7},{"t":"2019-09-26T12:40","s":"nf","v":67},{"t":"2019-09-26T13:06","s":"nf","v":71.6},{"t":"2019-09-26T13:28","s":"nf","v":76},{"t":"2019-09-26T13:47","s":"nf","v":80},{"t":"2019-09-26T14:00","s":"nf","v":71.6},{"t":"2019-09-26T14:22","s":"nf","v":65.7},{"t":"2019-09-26T14:41","s":"nf","v":71.6},{"t":"2019-09-26T15:00","s":"nf","v":72.4},{"t":"2019-09-26T15:16","s":"nf","v":67},{"t":"2019-09-26T15:27","s":"nf","v":48},{"t":"2019-09-26T15:49","s":"nf","v":46.5},{"t":"2019-09-26T16:30","s":"nf","v":47},{"t":"2019-09-26T16:48","s":"nf","v":50},{"t":"2019-09-26T17:04","s":"nf","v":49},{"t":"2019-09-26T17:15","s":"nf","v":39},{"t":"2019-09-26T17:37","s":"nf","v":37.7},{"t":"2019-09-26T17:50","s":"nf","v":37.7},{"t":"2019-09-26T18:04","s":"nf","v":27},{"t":"2019-09-26T18:31","s":"nf","v":23},{"t":"2019-09-26T18:52","s":"nf","v":18.5},{"t":"2019-09-26T19:11","s":"nf","v":6.6},{"t":"2019-09-26T19:38","s":"nf","v":11},{"t":"2019-09-26T20:05","s":"nf","v":11},{"t":"2019-09-26T20:32","s":"nf","v":9.6},{"t":"2019-09-26T20:59","s":"nf","v":2},{"t":"2019-09-26T21:40","s":"nf","v":1.5},{"t":"2019-09-26T23:14","s":"nf","v":1.5},{"t":"2019-09-26T23:28","s":"nf","v":0},
{"t":"2019-09-27T06:33","s":"nf","v":0},{"t":"2019-09-27T06:54","s":"nf","v":5},{"t":"2019-09-27T07:21","s":"nf","v":8},{"t":"2019-09-27T07:54","s":"nf","v":8},{"t":"2019-09-27T08:15","s":"nf","v":14},{"t":"2019-09-27T08:42","s":"nf","v":21.4},{"t":"2019-09-27T09:09","s":"nf","v":26},{"t":"2019-09-27T09:36","s":"nf","v":30},{"t":"2019-09-27T10:03","s":"nf","v":36},{"t":"2019-09-27T10:16","s":"nf","v":48},{"t":"2019-09-27T10:36","s":"nf","v":55},{"t":"2019-09-27T11:06","s":"nf","v":60},{"t":"2019-09-27T11:30","s":"nf","v":60},{"t":"2019-09-27T11:51","s":"nf","v":61},{"t":"2019-09-27T12:18","s":"nf","v":71.6},{"t":"2019-09-27T12:45","s":"nf","v":71.6},{"t":"2019-09-27T13:03","s":"nf","v":74.6},{"t":"2019-09-27T13:24","s":"nf","v":76},{"t":"2019-09-27T13:48","s":"nf","v":82},{"t":"2019-09-27T14:06","s":"nf","v":82.7},{"t":"2019-09-27T14:18","s":"nf","v":79},{"t":"2019-09-27T14:33","s":"nf","v":57},{"t":"2019-09-27T14:48","s":"nf","v":56},{"t":"2019-09-27T15:00","s":"nf","v":62.8},{"t":"2019-09-27T15:18","s":"nf","v":63.5},{"t":"2019-09-27T15:36","s":"nf","v":68.7},{"t":"2019-09-27T15:48","s":"nf","v":68.7},{"t":"2019-09-27T16:03","s":"nf","v":51},{"t":"2019-09-27T16:36","s":"nf","v":51},{"t":"2019-09-27T17:00","s":"nf","v":52.7},{"t":"2019-09-27T17:54","s":"nf","v":52.7},{"t":"2019-09-27T18:09","s":"nf","v":51},{"t":"2019-09-27T18:27","s":"nf","v":39},{"t":"2019-09-27T18:48","s":"nf","v":27},{"t":"2019-09-27T19:12","s":"nf","v":14},{"t":"2019-09-27T19:30","s":"nf","v":7.4},{"t":"2019-09-27T19:57","s":"nf","v":7.4},{"t":"2019-09-27T20:24","s":"nf","v":3.7},{"t":"2019-09-27T20:39","s":"nf","v":0},
{"t":"2019-09-27T23:45","s":"nf","v":0},
{"t":"2019-09-25T00:00","s":"ml","v":0},
{"t":"2019-09-25T06:57","s":"ml","v":0},{"t":"2019-09-25T07:39","s":"ml","v":17},{"t":"2019-09-25T08:09","s":"ml","v":33},{"t":"2019-09-25T08:27","s":"ml","v":26},{"t":"2019-09-25T08:39","s":"ml","v":30},{"t":"2019-09-25T09:00","s":"ml","v":43},{"t":"2019-09-25T09:27","s":"ml","v":48},{"t":"2019-09-25T09:54","s":"ml","v":53},{"t":"2019-09-25T10:33","s":"ml","v":51},{"t":"2019-09-25T11:15","s":"ml","v":50},{"t":"2019-09-25T11:51","s":"ml","v":51},{"t":"2019-09-25T12:15","s":"ml","v":47},{"t":"2019-09-25T12:33","s":"ml","v":35},{"t":"2019-09-25T13:09","s":"ml","v":35},{"t":"2019-09-25T13:39","s":"ml","v":35},{"t":"2019-09-25T14:21","s":"ml","v":30},{"t":"2019-09-25T14:45","s":"ml","v":26},{"t":"2019-09-25T15:15","s":"ml","v":23},{"t":"2019-09-25T15:39","s":"ml","v":30},{"t":"2019-09-25T16:06","s":"ml","v":33},{"t":"2019-09-25T16:45","s":"ml","v":33},{"t":"2019-09-25T17:27","s":"ml","v":28},{"t":"2019-09-25T18:21","s":"ml","v":27},{"t":"2019-09-25T18:39","s":"ml","v":18},{"t":"2019-09-25T19:03","s":"ml","v":9},{"t":"2019-09-25T19:39","s":"ml","v":1},{"t":"2019-09-25T19:51","s":"ml","v":0},
{"t":"2019-09-26T06:48","s":"ml","v":0},{"t":"2019-09-26T07:30","s":"ml","v":12.6},{"t":"2019-09-26T07:57","s":"ml","v":24},{"t":"2019-09-26T08:24","s":"ml","v":36},{"t":"2019-09-26T08:48","s":"ml","v":57},{"t":"2019-09-26T09:18","s":"ml","v":64},{"t":"2019-09-26T09:45","s":"ml","v":61.3},{"t":"2019-09-26T10:03","s":"ml","v":72.4},{"t":"2019-09-26T10:30","s":"ml","v":72.4},{"t":"2019-09-26T10:48","s":"ml","v":72.4},{"t":"2019-09-26T11:06","s":"ml","v":68},{"t":"2019-09-26T11:24","s":"ml","v":70},{"t":"2019-09-26T11:45","s":"ml","v":73},{"t":"2019-09-26T12:06","s":"ml","v":67},{"t":"2019-09-26T12:27","s":"ml","v":61.3},{"t":"2019-09-26T12:45","s":"ml","v":57},{"t":"2019-09-26T13:06","s":"ml","v":52.4},{"t":"2019-09-26T13:27","s":"ml","v":54},{"t":"2019-09-26T13:48","s":"ml","v":62.8},{"t":"2019-09-26T14:06","s":"ml","v":59.8},{"t":"2019-09-26T14:21","s":"ml","v":36},{"t":"2019-09-26T14:42","s":"ml","v":33},{"t":"2019-09-26T15:00","s":"ml","v":40.6},{"t":"2019-09-26T15:21","s":"ml","v":34.7},{"t":"2019-09-26T15:48","s":"ml","v":34.7},{"t":"2019-09-26T16:30","s":"ml","v":36},{"t":"2019-09-26T17:06","s":"ml","v":37.7},{"t":"2019-09-26T17:24","s":"ml","v":36},{"t":"2019-09-26T17:42","s":"ml","v":27},{"t":"2019-09-26T18:03","s":"ml","v":21.4},{"t":"2019-09-26T18:30","s":"ml","v":18.5},{"t":"2019-09-26T18:54","s":"ml","v":9.6},{"t":"2019-09-26T19:12","s":"ml","v":3.7},{"t":"2019-09-26T19:30","s":"ml","v":9.6},{"t":"2019-09-26T20:06","s":"ml","v":11},{"t":"2019-09-26T20:45","s":"ml","v":11},{"t":"2019-09-26T21:00","s":"ml","v":2},{"t":"2019-09-26T21:12","s":"ml","v":0},
{"t":"2019-09-27T06:33","s":"ml","v":0},{"t":"2019-09-27T07:06","s":"ml","v":17},{"t":"2019-09-27T07:33","s":"ml","v":18.5},{"t":"2019-09-27T08:00","s":"ml","v":54},{"t":"2019-09-27T08:24","s":"ml","v":51.7},{"t":"2019-09-27T08:42","s":"ml","v":54},{"t":"2019-09-27T09:09","s":"ml","v":57},{"t":"2019-09-27T09:36","s":"ml","v":58},{"t":"2019-09-27T10:03","s":"ml","v":61.3},{"t":"2019-09-27T10:30","s":"ml","v":62.8},{"t":"2019-09-27T10:54","s":"ml","v":61.3},{"t":"2019-09-27T11:24","s":"ml","v":62.8},{"t":"2019-09-27T11:51","s":"ml","v":61.3},{"t":"2019-09-27T12:18","s":"ml","v":54},{"t":"2019-09-27T12:36","s":"ml","v":43.6},{"t":"2019-09-27T12:57","s":"ml","v":55},{"t":"2019-09-27T13:18","s":"ml","v":54},{"t":"2019-09-27T13:48","s":"ml","v":51},{"t":"2019-09-27T14:12","s":"ml","v":43.6},{"t":"2019-09-27T14:33","s":"ml","v":42},{"t":"2019-09-27T15:00","s":"ml","v":45},{"t":"2019-09-27T15:27","s":"ml","v":46.5},{"t":"2019-09-27T15:54","s":"ml","v":48},{"t":"2019-09-27T16:21","s":"ml","v":51},{"t":"2019-09-27T17:00","s":"ml","v":51.7},{"t":"2019-09-27T18:09","s":"ml","v":51.7},{"t":"2019-09-27T18:24","s":"ml","v":46.5},{"t":"2019-09-27T18:45","s":"ml","v":21.4},{"t":"2019-09-27T19:12","s":"ml","v":12.6},{"t":"2019-09-27T19:30","s":"ml","v":7.4},{"t":"2019-09-27T20:12","s":"ml","v":7.4},{"t":"2019-09-27T20:36","s":"ml","v":3.7},{"t":"2019-09-27T20:51","s":"ml","v":0},
{"t":"2019-09-27T23:45","s":"ml","v":0},
{"t":"2019-09-25T00:00","s":"pe","v":0},
{"t":"2019-09-25T06:57","s":"pe","v":0},{"t":"2019-09-25T07:27","s":"pe","v":17},{"t":"2019-09-25T07:54","s":"pe","v":30},{"t":"2019-09-25T08:15","s":"pe","v":35},{"t":"2019-09-25T08:39","s":"pe","v":26},{"t":"2019-09-25T09:06","s":"pe","v":48},{"t":"2019-09-25T09:27","s":"pe","v":46},{"t":"2019-09-25T09:39","s":"pe","v":52},{"t":"2019-09-25T10:03","s":"pe","v":57.6},{"t":"2019-09-25T10:27","s":"pe","v":57.6},{"t":"2019-09-25T10:45","s":"pe","v":54},{"t":"2019-09-25T11:12","s":"pe","v":51.7},{"t":"2019-09-25T11:39","s":"pe","v":51},{"t":"2019-09-25T11:57","s":"pe","v":48},{"t":"2019-09-25T12:15","s":"pe","v":42},{"t":"2019-09-25T12:33","s":"pe","v":42},{"t":"2019-09-25T12:45","s":"pe","v":39},{"t":"2019-09-25T13:09","s":"pe","v":38},{"t":"2019-09-25T13:27","s":"pe","v":36},{"t":"2019-09-25T13:51","s":"pe","v":30},{"t":"2019-09-25T14:21","s":"pe","v":24},{"t":"2019-09-25T14:39","s":"pe","v":21},{"t":"2019-09-25T15:00","s":"pe","v":18},{"t":"2019-09-25T15:21","s":"pe","v":24},{"t":"2019-09-25T15:48","s":"pe","v":29},{"t":"2019-09-25T16:06","s":"pe","v":30},{"t":"2019-09-25T16:39","s":"pe","v":30},{"t":"2019-09-25T17:09","s":"pe","v":21},{"t":"2019-09-25T17:51","s":"pe","v":21},{"t":"2019-09-25T18:09","s":"pe","v":17},{"t":"2019-09-25T18:33","s":"pe","v":11},{"t":"2019-09-25T18:54","s":"pe","v":6.6},{"t":"2019-09-25T19:21","s":"pe","v":3},{"t":"2019-09-25T19:39","s":"pe","v":0},
{"t":"2019-09-26T06:45","s":"pe","v":0},{"t":"2019-09-26T07:15","s":"pe","v":8},{"t":"2019-09-26T07:42","s":"pe","v":18.5},{"t":"2019-09-26T08:03","s":"pe","v":27},{"t":"2019-09-26T08:21","s":"pe","v":42},{"t":"2019-09-26T08:42","s":"pe","v":36},{"t":"2019-09-26T09:03","s":"pe","v":40.6},{"t":"2019-09-26T09:24","s":"pe","v":34.7},{"t":"2019-09-26T09:45","s":"pe","v":39},{"t":"2019-09-26T09:57","s":"pe","v":48},{"t":"2019-09-26T10:12","s":"pe","v":57},{"t":"2019-09-26T10:30","s":"pe","v":58},{"t":"2019-09-26T10:51","s":"pe","v":59.8},{"t":"2019-09-26T11:12","s":"pe","v":59.8},{"t":"2019-09-26T11:30","s":"pe","v":61.3},{"t":"2019-09-26T11:45","s":"pe","v":62.8},{"t":"2019-09-26T12:06","s":"pe","v":67},{"t":"2019-09-26T12:27","s":"pe","v":68.7},{"t":"2019-09-26T12:45","s":"pe","v":70},{"t":"2019-09-26T13:06","s":"pe","v":72.4},{"t":"2019-09-26T13:21","s":"pe","v":74.6},{"t":"2019-09-26T13:39","s":"pe","v":77.5},{"t":"2019-09-26T13:54","s":"pe","v":68.7},{"t":"2019-09-26T14:06","s":"pe","v":57},{"t":"2019-09-26T14:21","s":"pe","v":51},{"t":"2019-09-26T14:42","s":"pe","v":57},{"t":"2019-09-26T15:00","s":"pe","v":54},{"t":"2019-09-26T15:18","s":"pe","v":39},{"t":"2019-09-26T15:36","s":"pe","v":31.8},{"t":"2019-09-26T16:03","s":"pe","v":31.8},{"t":"2019-09-26T16:30","s":"pe","v":32.5},{"t":"2019-09-26T16:57","s":"pe","v":33},{"t":"2019-09-26T17:15","s":"pe","v":36},{"t":"2019-09-26T17:36","s":"pe","v":30},{"t":"2019-09-26T17:57","s":"pe","v":24},{"t":"2019-09-26T18:18","s":"pe","v":18.5},{"t":"2019-09-26T18:36","s":"pe","v":12.6},{"t":"2019-09-26T18:54","s":"pe","v":5},{"t":"2019-09-26T19:12","s":"pe","v":9.6},{"t":"2019-09-26T19:39","s":"pe","v":11.8},{"t":"2019-09-26T20:18","s":"pe","v":11.8},{"t":"2019-09-26T20:45","s":"pe","v":10},{"t":"2019-09-26T21:00","s":"pe","v":1},{"t":"2019-09-26T21:12","s":"pe","v":0},
{"t":"2019-09-27T06:33","s":"pe","v":0},{"t":"2019-09-27T06:54","s":"pe","v":14},{"t":"2019-09-27T07:21","s":"pe","v":17},{"t":"2019-09-27T07:48","s":"pe","v":17},{"t":"2019-09-27T08:06","s":"pe","v":52.4},{"t":"2019-09-27T08:27","s":"pe","v":55},{"t":"2019-09-27T08:48","s":"pe","v":54},{"t":"2019-09-27T09:09","s":"pe","v":52.4},{"t":"2019-09-27T09:30","s":"pe","v":42},{"t":"2019-09-27T09:48","s":"pe","v":45},{"t":"2019-09-27T10:12","s":"pe","v":52.4},{"t":"2019-09-27T10:30","s":"pe","v":60},{"t":"2019-09-27T10:57","s":"pe","v":62.8},{"t":"2019-09-27T11:24","s":"pe","v":60},{"t":"2019-09-27T11:51","s":"pe","v":60},{"t":"2019-09-27T12:18","s":"pe","v":58},{"t":"2019-09-27T12:45","s":"pe","v":74.6},{"t":"2019-09-27T13:03","s":"pe","v":74.6},{"t":"2019-09-27T13:24","s":"pe","v":76},{"t":"2019-09-27T13:48","s":"pe","v":65.7},{"t":"2019-09-27T14:06","s":"pe","v":54},{"t":"2019-09-27T14:24","s":"pe","v":40.6},{"t":"2019-09-27T14:45","s":"pe","v":45},{"t":"2019-09-27T15:12","s":"pe","v":45},{"t":"2019-09-27T15:39","s":"pe","v":46.5},{"t":"2019-09-27T16:00","s":"pe","v":48},{"t":"2019-09-27T16:21","s":"pe","v":45},{"t":"2019-09-27T17:00","s":"pe","v":45.3},{"t":"2019-09-27T18:09","s":"pe","v":45.3},{"t":"2019-09-27T18:27","s":"pe","v":43},{"t":"2019-09-27T18:54","s":"pe","v":21.4},{"t":"2019-09-27T19:12","s":"pe","v":12.6},{"t":"2019-09-27T19:30","s":"pe","v":7.4},{"t":"2019-09-27T20:12","s":"pe","v":7.4},{"t":"2019-09-27T20:24","s":"pe","v":4},{"t":"2019-09-27T20:36","s":"pe","v":0},
{"t":"2019-09-27T23:45","s":"pe","v":0},
{"t":"2019-09-25T00:00","s":"pf","v":0},
{"t":"2019-09-25T07:00","s":"pf","v":0},{"t":"2019-09-25T07:15","s":"pf","v":9.6},{"t":"2019-09-25T07:39","s":"pf","v":36},{"t":"2019-09-25T07:57","s":"pf","v":38},{"t":"2019-09-25T08:15","s":"pf","v":29},{"t":"2019-09-25T08:33","s":"pf","v":38},{"t":"2019-09-25T08:51","s":"pf","v":37},{"t":"2019-09-25T09:15","s":"pf","v":43.6},{"t":"2019-09-25T09:39","s":"pf","v":43.6},{"t":"2019-09-25T10:06","s":"pf","v":45},{"t":"2019-09-25T10:45","s":"pf","v":46},{"t":"2019-09-25T11:27","s":"pf","v":47},{"t":"2019-09-25T11:51","s":"pf","v":46},{"t":"2019-09-25T12:33","s":"pf","v":47},{"t":"2019-09-25T13:00","s":"pf","v":46},{"t":"2019-09-25T13:27","s":"pf","v":48},{"t":"2019-09-25T13:51","s":"pf","v":42},{"t":"2019-09-25T14:21","s":"pf","v":39},{"t":"2019-09-25T14:45","s":"pf","v":30},{"t":"2019-09-25T15:15","s":"pf","v":21},{"t":"2019-09-25T15:33","s":"pf","v":24},{"t":"2019-09-25T15:51","s":"pf","v":27},{"t":"2019-09-25T16:45","s":"pf","v":27},{"t":"2019-09-25T18:06","s":"pf","v":27},{"t":"2019-09-25T18:21","s":"pf","v":18.5},{"t":"2019-09-25T18:45","s":"pf","v":12.5},{"t":"2019-09-25T19:27","s":"pf","v":6.6},{"t":"2019-09-25T19:51","s":"pf","v":2},{"t":"2019-09-25T20:21","s":"pf","v":0},{"t":"2019-09-25T21:15","s":"pf","v":0},{"t":"2019-09-25T21:21","s":"pf","v":2},{"t":"2019-09-25T21:45","s":"pf","v":2},{"t":"2019-09-25T22:03","s":"pf","v":0},
{"t":"2019-09-26T06:48","s":"pf","v":0},{"t":"2019-09-26T07:30","s":"pf","v":17},{"t":"2019-09-26T07:57","s":"pf","v":30},{"t":"2019-09-26T08:24","s":"pf","v":42},{"t":"2019-09-26T08:42","s":"pf","v":58},{"t":"2019-09-26T08:57","s":"pf","v":57},{"t":"2019-09-26T09:18","s":"pf","v":48},{"t":"2019-09-26T09:36","s":"pf","v":58},{"t":"2019-09-26T09:51","s":"pf","v":59.8},{"t":"2019-09-26T10:12","s":"pf","v":61.3},{"t":"2019-09-26T10:30","s":"pf","v":60},{"t":"2019-09-26T10:51","s":"pf","v":60.5},{"t":"2019-09-26T11:12","s":"pf","v":61.3},{"t":"2019-09-26T11:30","s":"pf","v":60.5},{"t":"2019-09-26T11:45","s":"pf","v":62.8},{"t":"2019-09-26T12:06","s":"pf","v":61.3},{"t":"2019-09-26T12:27","s":"pf","v":60},{"t":"2019-09-26T12:45","s":"pf","v":61.3},{"t":"2019-09-26T13:06","s":"pf","v":62.8},{"t":"2019-09-26T13:27","s":"pf","v":61.3},{"t":"2019-09-26T13:48","s":"pf","v":62.8},{"t":"2019-09-26T14:00","s":"pf","v":54},{"t":"2019-09-26T14:15","s":"pf","v":42},{"t":"2019-09-26T14:27","s":"pf","v":46.5},{"t":"2019-09-26T14:42","s":"pf","v":45},{"t":"2019-09-26T15:00","s":"pf","v":39},{"t":"2019-09-26T15:21","s":"pf","v":36},{"t":"2019-09-26T15:48","s":"pf","v":34.7},{"t":"2019-09-26T16:15","s":"pf","v":34.7},{"t":"2019-09-26T16:42","s":"pf","v":36},{"t":"2019-09-26T17:03","s":"pf","v":36},{"t":"2019-09-26T17:24","s":"pf","v":30},{"t":"2019-09-26T17:42","s":"pf","v":27},{"t":"2019-09-26T18:03","s":"pf","v":21.4},{"t":"2019-09-26T18:24","s":"pf","v":15.5},{"t":"2019-09-26T18:45","s":"pf","v":11},{"t":"2019-09-26T19:12","s":"pf","v":8},{"t":"2019-09-26T19:39","s":"pf","v":11},{"t":"2019-09-26T20:18","s":"pf","v":10.5},{"t":"2019-09-26T20:45","s":"pf","v":10},{"t":"2019-09-26T21:12","s":"pf","v":14},{"t":"2019-09-26T21:27","s":"pf","v":3},{"t":"2019-09-26T21:54","s":"pf","v":1.5},{"t":"2019-09-26T23:30","s":"pf","v":1.5},{"t":"2019-09-26T23:54","s":"pf","v":0},
{"t":"2019-09-27T06:27","s":"pf","v":0},{"t":"2019-09-27T06:54","s":"pf","v":18.5},{"t":"2019-09-27T07:21","s":"pf","v":17},{"t":"2019-09-27T07:48","s":"pf","v":18.5},{"t":"2019-09-27T08:06","s":"pf","v":54},{"t":"2019-09-27T08:27","s":"pf","v":62},{"t":"2019-09-27T08:48","s":"pf","v":61.3},{"t":"2019-09-27T09:09","s":"pf","v":62},{"t":"2019-09-27T09:27","s":"pf","v":60.5},{"t":"2019-09-27T09:48","s":"pf","v":57.6},{"t":"2019-09-27T10:12","s":"pf","v":64},{"t":"2019-09-27T10:30","s":"pf","v":65.7},{"t":"2019-09-27T10:57","s":"pf","v":65},{"t":"2019-09-27T11:24","s":"pf","v":65.7},{"t":"2019-09-27T11:51","s":"pf","v":64},{"t":"2019-09-27T12:18","s":"pf","v":58},{"t":"2019-09-27T12:45","s":"pf","v":70},{"t":"2019-09-27T13:12","s":"pf","v":68},{"t":"2019-09-27T13:30","s":"pf","v":67},{"t":"2019-09-27T13:48","s":"pf","v":58},{"t":"2019-09-27T14:06","s":"pf","v":46.5},{"t":"2019-09-27T14:24","s":"pf","v":37.7},{"t":"2019-09-27T14:45","s":"pf","v":38.4},{"t":"2019-09-27T15:12","s":"pf","v":37.7},{"t":"2019-09-27T15:39","s":"pf","v":38.4},{"t":"2019-09-27T16:00","s":"pf","v":34.7},{"t":"2019-09-27T16:21","s":"pf","v":38.4},{"t":"2019-09-27T16:48","s":"pf","v":39},{"t":"2019-09-27T18:09","s":"pf","v":39},{"t":"2019-09-27T18:27","s":"pf","v":33},{"t":"2019-09-27T18:48","s":"pf","v":18.5},{"t":"2019-09-27T19:12","s":"pf","v":12.6},{"t":"2019-09-27T19:30","s":"pf","v":7.4},{"t":"2019-09-27T20:12","s":"pf","v":7.4},{"t":"2019-09-27T20:36","s":"pf","v":2},{"t":"2019-09-27T20:57","s":"pf","v":0},{"t":"2019-09-27T21:18","s":"pf","v":6},{"t":"2019-09-27T21:30","s":"pf","v":0},
{"t":"2019-09-27T23:45","s":"pf","v":0}
]
},
"vconcat": [
{
 "width": 532, "height": 329,
 "title": {"text": "(a)", "orient": "bottom", "font": "Liberation Serif", "fontSize": 18, "fontWeight": "normal", "color": "#000000", "anchor": "middle", "frame": "group", "dx": -12, "offset": 20},
 "layer": [
  {"layer": [
    {"data": {"name": "coarse"},
     "transform": [{"fold": ["dc","nf","ml","pe","pf"], "as": ["s","v"]}],
     "mark": {"type": "line", "strokeWidth": 0.9, "clip": true},
     "encoding": {
       "x": {"field": "t", "type": "temporal", "scale": {"domain": [{"year":2019,"month":9,"date":23},{"year":2019,"month":10,"date":23}]},
             "axis": {"title": "Time", "format": "%b %d", "values": [{"year":2019,"month":9,"date":23},{"year":2019,"month":9,"date":29},{"year":2019,"month":10,"date":5},{"year":2019,"month":10,"date":11},{"year":2019,"month":10,"date":17},{"year":2019,"month":10,"date":23}]}},
       "y": {"field": "v", "type": "quantitative", "scale": {"domain": [0,200]}, "axis": {"title": "Net Load (kW)", "values": [0,50,100,150,200]}},
       "color": {"field": "s", "type": "nominal",
                 "scale": {"domain": ["dc","nf","ml","pe","pf"], "range": ["#0072BD","#D95319","#EDB120","#7E2F8E","#77AC30"]},
                 "legend": {"orient": "none", "legendX": 201, "legendY": -25, "title": null, "symbolType": "stroke", "symbolSize": 324, "symbolStrokeWidth": 1.2, "labelFont": "Liberation Sans", "labelFontSize": 18.5, "labelColor": "#000000", "labelLimit": 400, "labelOffset": 2, "fillColor": "#ffffff", "strokeColor": "#7a7a7a", "padding": 2, "rowPadding": 2.2,
                            "labelExpr": "datum.value=='dc'?'Dumb Charging':datum.value=='nf'?'No Forecast MPC':datum.value=='ml'?'ML MPC':datum.value=='pe'?'Persistence MPC':'Perfect Forecast MPC'"}}
     }},
    {"data": {"name": "fine"},
     "mark": {"type": "line", "strokeWidth": 0.9, "clip": true},
     "encoding": {
       "x": {"field": "t", "type": "temporal", "scale": {"domain": [{"year":2019,"month":9,"date":23},{"year":2019,"month":10,"date":23}]}},
       "y": {"field": "v", "type": "quantitative", "scale": {"domain": [0,200]}},
       "color": {"field": "s", "type": "nominal", "scale": {"domain": ["dc","nf","ml","pe","pf"], "range": ["#0072BD","#D95319","#EDB120","#7E2F8E","#77AC30"]}}
     }}
  ]},
  {"data": {"name": "notes"},
   "layer": [
    {"mark": {"type": "rule", "strokeWidth": 3},
     "encoding": {
       "x": {"field": "t", "type": "temporal", "scale": {"domain": [{"year":2019,"month":9,"date":23},{"year":2019,"month":10,"date":23}]}, "axis": null},
       "y": {"field": "v", "type": "quantitative", "scale": {"domain": [0,200]}, "axis": null},
       "x2": {"field": "t2"}, "y2": {"field": "v2"},
       "color": {"field": "lab", "type": "nominal", "scale": {"domain": ["117.6","97.1","105.7","90.5","90.1"], "range": ["#0072BD","#7E2F8E","#FF0000","#EDB120","#77AC30"]}, "legend": null}
     }},
    {"mark": {"type": "point", "shape": "triangle-up", "filled": true, "opacity": 1, "size": 110},
     "encoding": {
       "x": {"field": "t2", "type": "temporal", "scale": {"domain": [{"year":2019,"month":9,"date":23},{"year":2019,"month":10,"date":23}]}, "axis": null},
       "y": {"field": "v2", "type": "quantitative", "scale": {"domain": [0,200]}, "axis": null},
       "angle": {"field": "lab", "type": "nominal", "scale": {"domain": ["117.6","97.1","105.7","90.5","90.1"], "range": [47,136,198,100,226]}, "legend": null},
       "color": {"field": "lab", "type": "nominal", "scale": {"domain": ["117.6","97.1","105.7","90.5","90.1"], "range": ["#0072BD","#7E2F8E","#FF0000","#EDB120","#77AC30"]}, "legend": null}
     }},
    {"mark": {"type": "text", "font": "Liberation Sans", "fontSize": 17.5, "fontWeight": "bold", "align": "center", "baseline": "middle"},
     "encoding": {
       "x": {"field": "tt", "type": "temporal", "scale": {"domain": [{"year":2019,"month":9,"date":23},{"year":2019,"month":10,"date":23}]}, "axis": null},
       "y": {"field": "tv", "type": "quantitative", "scale": {"domain": [0,200]}, "axis": null},
       "text": {"field": "lab"},
       "color": {"field": "lab", "type": "nominal", "scale": {"domain": ["117.6","97.1","105.7","90.5","90.1"], "range": ["#0072BD","#7E2F8E","#FF0000","#EDB120","#77AC30"]}, "legend": null}
     }}
   ]},
  {"data": {"values": [{}]},
   "mark": {"type": "text", "text": "2019", "font": "Liberation Sans", "fontSize": 20, "color": "#262626", "align": "center", "baseline": "middle"},
   "encoding": {
     "x": {"datum": {"year":2019,"month":10,"date":20,"hours":16,"minutes":35}, "type": "temporal", "scale": {"domain": [{"year":2019,"month":9,"date":23},{"year":2019,"month":10,"date":23}]},
           "axis": {"orient": "top", "labels": false, "title": null, "values": [{"year":2019,"month":9,"date":29},{"year":2019,"month":10,"date":5},{"year":2019,"month":10,"date":11},{"year":2019,"month":10,"date":17}]}},
     "y": {"datum": -26, "type": "quantitative", "scale": {"domain": [0,200]},
           "axis": {"orient": "right", "labels": false, "title": null, "values": [50,100,150]}}
   }}
 ],
 "resolve": {"scale": {"color": "independent"}, "axis": {"x": "independent", "y": "independent"}}
},
{
 "width": 532, "height": 328,
 "title": {"text": "(b)", "orient": "bottom", "font": "Liberation Serif", "fontSize": 18, "fontWeight": "normal", "color": "#000000", "anchor": "middle", "frame": "group", "dx": -12, "offset": 18},
 "layer": [
  {"data": {"name": "fine"},
   "mark": {"type": "line", "strokeWidth": 1.2, "clip": true},
   "encoding": {
     "x": {"field": "t", "type": "temporal", "scale": {"domain": [{"year":2019,"month":9,"date":25},{"year":2019,"month":9,"date":27,"hours":23,"minutes":45}]},
           "axis": {"title": "Time", "format": "%b %d", "values": [{"year":2019,"month":9,"date":25},{"year":2019,"month":9,"date":26},{"year":2019,"month":9,"date":27}]}},
     "y": {"field": "v", "type": "quantitative", "scale": {"domain": [0,145]}, "axis": {"title": "Net Load (kW)", "values": [0,20,40,60,80,100,120,140]}},
     "color": {"field": "s", "type": "nominal",
               "scale": {"domain": ["dc","nf","ml","pe","pf"], "range": ["#0072BD","#D95319","#EDB120","#7E2F8E","#77AC30"]},
               "legend": {"orient": "none", "legendX": 23, "legendY": -20, "title": null, "symbolType": "stroke", "symbolSize": 324, "symbolStrokeWidth": 1.2, "labelFont": "Liberation Sans", "labelFontSize": 18.5, "labelColor": "#000000", "labelLimit": 400, "labelOffset": 2, "fillColor": "#ffffff", "strokeColor": "#7a7a7a", "padding": 2, "rowPadding": 2.2,
                          "labelExpr": "datum.value=='dc'?'Dumb Charging':datum.value=='nf'?'No Forecast MPC':datum.value=='ml'?'ML MPC':datum.value=='pe'?'Persistence MPC':'Perfect Forecast MPC'"}}
   }},
  {"data": {"values": [{}]},
   "mark": {"type": "text", "text": "2019", "font": "Liberation Sans", "fontSize": 20, "color": "#262626", "align": "center", "baseline": "middle"},
   "encoding": {
     "x": {"datum": {"year":2019,"month":9,"date":27,"hours":18,"minutes":21}, "type": "temporal", "scale": {"domain": [{"year":2019,"month":9,"date":25},{"year":2019,"month":9,"date":27,"hours":23,"minutes":45}]},
           "axis": {"orient": "top", "labels": false, "title": null, "values": [{"year":2019,"month":9,"date":26},{"year":2019,"month":9,"date":27}]}},
     "y": {"datum": -19, "type": "quantitative", "scale": {"domain": [0,145]},
           "axis": {"orient": "right", "labels": false, "title": null, "values": [20,40,60,80,100,120,140]}}
   }}
 ],
 "resolve": {"axis": {"x": "independent", "y": "independent"}}
}
]
}
